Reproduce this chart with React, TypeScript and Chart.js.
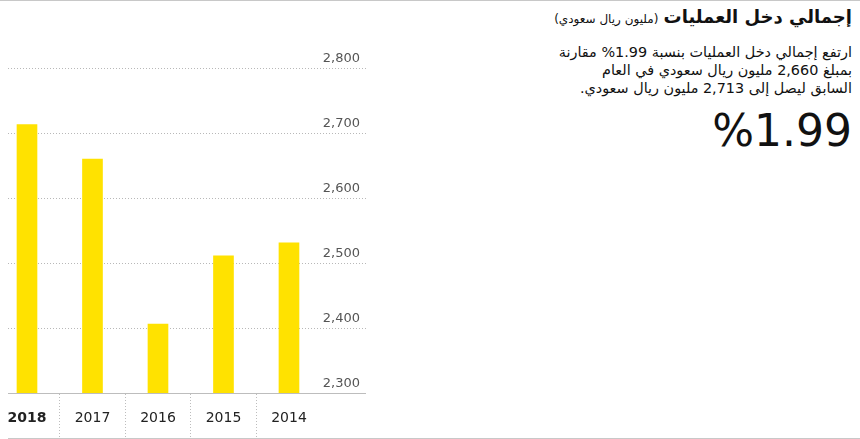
import React, { useEffect, useRef } from 'react';
import { Chart, registerables } from 'chart.js';

Chart.register(...registerables);

// Operating income by year (million SAR), newest first
const years = ['2018', '2017', '2016', '2015', '2014'];
const income = [2713, 2660, 2406, 2511, 2531];
const yTickValues = [2300, 2400, 2500, 2600, 2700, 2800];

const FONT = '"DejaVu Sans", sans-serif';

const summaryLines = [
  'ارتفع إجمالي دخل العمليات بنسبة 1.99% مقارنة',
  'بمبلغ 2,660 مليون ريال سعودي في العام',
  'السابق ليصل إلى 2,713 مليون ريال سعودي.',
];

export default function App() {
  const canvasRef = useRef<HTMLCanvasElement>(null);

  useEffect(() => {
    const chart = new Chart(canvasRef.current!, {
      type: 'bar',
      data: {
        datasets: [
          {
            data: income.map((v, i) => ({ x: i, y: v })),
            backgroundColor: '#FFE200',
            borderWidth: 0,
            barThickness: 20,
          },
        ],
      },
      options: {
        animation: false,
        responsive: false,
        maintainAspectRatio: false,
        layout: { padding: { left: 8, top: 68, right: 0, bottom: 1 } },
        plugins: { legend: { display: false }, tooltip: { enabled: false } },
        scales: {
          x: {
            type: 'linear',
            min: -0.29,
            max: 5.176,
            offset: false,
            afterBuildTicks: (s: any) => {
              s.ticks = years.map((_, i) => ({ value: i }));
            },
            afterFit: (s: any) => {
              s.height = 45;
            },
            grid: {
              offset: true,
              drawOnChartArea: false,
              drawTicks: true,
              tickLength: 45,
              tickWidth: 1,
              tickColor: (c: any) => (c.type === 'tick' ? '#bdbdbd' : 'rgba(0,0,0,0)'),
              tickBorderDash: [1, 2],
            },
            border: { display: true, color: '#bdbdbd', width: 1 },
            ticks: {
              padding: -28,
              autoSkip: false,
              maxRotation: 0,
              color: '#222',
              callback: (_v: any, i: number) => years[i],
              font: (c: any) => ({
                family: FONT,
                size: 14,
                weight: c.index === 0 ? 'bold' : 'normal',
              }),
            },
          },
          y: {
            position: 'right',
            min: 2300,
            max: 2800,
            afterBuildTicks: (s: any) => {
              s.ticks = yTickValues.map((v) => ({ value: v }));
            },
            afterFit: (s: any) => {
              s.width = 0;
            },
            grid: {
              drawTicks: false,
              lineWidth: 1,
              color: (c: any) =>
                c.tick && c.tick.value === 2300 ? 'rgba(0,0,0,0)' : '#b8b8b8',
            },
            border: { display: false, dash: [1, 2] },
            ticks: {
              mirror: true,
              padding: -6,
              labelOffset: -9,
              color: '#555',
              font: { family: FONT, size: 13 },
              callback: (v: any) => Number(v).toLocaleString('en-US'),
            },
          },
        },
      },
    });
    return () => chart.destroy();
  }, []);

  return (
    <div
      style={{
        position: 'absolute',
        left: 0,
        top: 0,
        width: 860,
        height: 439,
        background: '#fff',
        overflow: 'hidden',
      }}
    >
      <div style={{ position: 'absolute', left: 0, top: 0, width: 860, height: 1, background: '#c8c8c8' }} />
      <div style={{ position: 'absolute', left: 8, top: 438, width: 852, height: 1, background: '#c8c8c8' }} />
      <canvas
        ref={canvasRef}
        width={366}
        height={439}
        style={{ position: 'absolute', left: 0, top: 0, width: 366, height: 439 }}
      />
      <div
        dir="rtl"
        style={{
          position: 'absolute',
          right: 8,
          top: 4,
          width: 420,
          textAlign: 'right',
          fontFamily: FONT,
          color: '#111',
        }}
      >
        <div style={{ height: 26, lineHeight: '26px', whiteSpace: 'nowrap' }}>
          <span style={{ fontSize: 18, fontWeight: 'bold' }}>إجمالي دخل العمليات</span>{' '}
          <span style={{ fontSize: 12 }}>(مليون ريال سعودي)</span>
        </div>
        <div style={{ marginTop: 13, fontSize: 14.4 }}>
          {summaryLines.map((line, i) => (
            <div key={i} style={{ height: 18, lineHeight: '18px', whiteSpace: 'nowrap' }}>
              {line}
            </div>
          ))}
        </div>
        <div dir="ltr" style={{ marginTop: 8, fontSize: 44, lineHeight: '52px', textAlign: 'right', color: '#111' }}>
          %1.99
        </div>
      </div>
    </div>
  );
}
